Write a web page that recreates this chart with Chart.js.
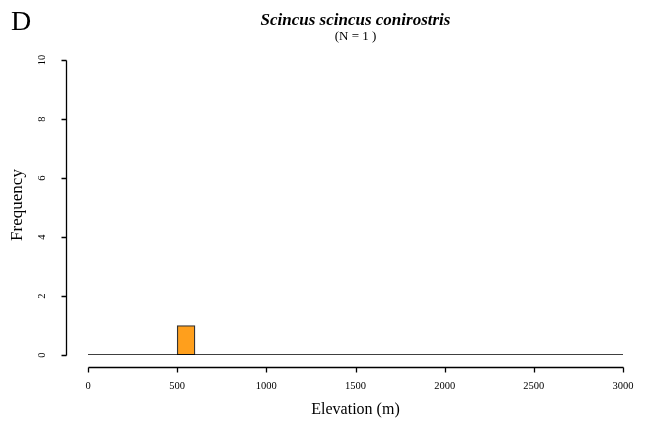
<!DOCTYPE html>
<html>
<head>
<meta charset="utf-8">
<script src="https://cdn.jsdelivr.net/npm/chart.js@4.4.0/dist/chart.umd.min.js"></script>
<style>
  html, body { margin: 0; padding: 0; background: #fff; }
  #wrap { width: 645px; height: 423px; }
</style>
</head>
<body>
<div id="wrap"><canvas id="hist"></canvas></div>
<script>
// Histogram bins (100 m wide) and counts
const binStarts = [0, 100, 200, 300, 400, 500, 600, 700, 800, 900,
    1000, 1100, 1200, 1300, 1400, 1500, 1600, 1700, 1800, 1900,
    2000, 2100, 2200, 2300, 2400, 2500, 2600, 2700, 2800, 2900];
const binCounts = [0, 0, 0, 0, 0, 1, 0, 0, 0, 0,
    0, 0, 0, 0, 0, 0, 0, 0, 0, 0,
    0, 0, 0, 0, 0, 0, 0, 0, 0, 0];
const binWidth = 100;

// Axis ticks
const xTicks = [0, 500, 1000, 1500, 2000, 2500, 3000];
const yTicks = [0, 2, 4, 6, 8, 10];

const panelLetter = 'D';
const speciesName = 'Scincus scincus conirostris';
const sampleSize = 1;

const serif = '"Liberation Serif", "Times New Roman", serif';

// R-style axes, offset from the plot region, plus the titles
const rAxes = {
    id: 'rAxes',
    afterDraw(chart) {
        const ctx = chart.ctx;
        const xs = chart.scales.x;
        const ys = chart.scales.y;
        const axisX = 66;   // y axis line position
        const axisY = 367;  // x axis line position
        const tick = 5;

        ctx.save();
        ctx.strokeStyle = '#000';
        ctx.fillStyle = '#000';
        ctx.lineWidth = 1.3;

        // y axis
        const yTop = Math.round(ys.getPixelForValue(yTicks[yTicks.length - 1])) + 0.5;
        const yBot = Math.round(ys.getPixelForValue(yTicks[0])) + 0.5;
        ctx.beginPath();
        ctx.moveTo(axisX + 0.5, yTop);
        ctx.lineTo(axisX + 0.5, yBot);
        yTicks.forEach(v => {
            const py = Math.round(ys.getPixelForValue(v)) + 0.5;
            ctx.moveTo(axisX + 0.5, py);
            ctx.lineTo(axisX + 0.5 - tick, py);
        });
        ctx.stroke();
        ctx.font = '10.5px ' + serif;
        ctx.textAlign = 'center';
        ctx.textBaseline = 'middle';
        yTicks.forEach(v => {
            const py = ys.getPixelForValue(v);
            ctx.save();
            ctx.translate(42, py);
            ctx.rotate(-Math.PI / 2);
            ctx.fillText(String(v), 0, 0);
            ctx.restore();
        });

        // x axis
        const xL = Math.round(xs.getPixelForValue(xTicks[0])) + 0.5;
        const xR = Math.round(xs.getPixelForValue(xTicks[xTicks.length - 1])) + 0.5;
        ctx.beginPath();
        ctx.moveTo(xL, axisY + 0.5);
        ctx.lineTo(xR, axisY + 0.5);
        xTicks.forEach(v => {
            const px = Math.round(xs.getPixelForValue(v)) + 0.5;
            ctx.moveTo(px, axisY + 0.5);
            ctx.lineTo(px, axisY + 0.5 + tick);
        });
        ctx.stroke();
        xTicks.forEach(v => {
            ctx.fillText(String(v), xs.getPixelForValue(v), 386);
        });

        // axis titles
        ctx.font = '16px ' + serif;
        ctx.fillText('Elevation (m)', (xs.left + xs.right) / 2, 410);
        ctx.font = '17px ' + serif;
        ctx.save();
        ctx.translate(18, 205);
        ctx.rotate(-Math.PI / 2);
        ctx.fillText('Frequency', 0, 0);
        ctx.restore();

        // main title
        const cx = (xs.left + xs.right) / 2;
        ctx.font = 'italic bold 17px ' + serif;
        ctx.fillText(speciesName, cx, 21);
        ctx.font = '13px ' + serif;
        ctx.fillText('(N = ' + sampleSize + ' )', cx, 37);

        // panel letter
        ctx.font = '28px ' + serif;
        ctx.textAlign = 'left';
        ctx.textBaseline = 'alphabetic';
        ctx.fillText(panelLetter, 11, 30);
        ctx.restore();
    }
};

const barData = binStarts.map((s, i) => ({ x: s + binWidth / 2, y: binCounts[i] }));
const xFirst = binStarts[0];
const xLast = binStarts[binStarts.length - 1] + binWidth;

new Chart(document.getElementById('hist'), {
    type: 'bar',
    data: {
        datasets: [{
            type: 'line',
            data: [{ x: xFirst, y: 0 }, { x: xLast, y: 0 }],
            borderColor: '#000',
            borderWidth: 1.4,
            pointRadius: 0,
            order: 0
        }, {
            data: barData,
            backgroundColor: '#FF9F1C',
            borderColor: '#333',
            borderWidth: 1.3,
            borderSkipped: false,
            barPercentage: 1,
            categoryPercentage: 1,
            order: 1
        }]
    },
    options: {
        responsive: true,
        maintainAspectRatio: false,
        animation: false,
        layout: { padding: { left: 88, right: 22, top: 60, bottom: 68 } },
        plugins: {
            legend: { display: false },
            tooltip: { enabled: false }
        },
        scales: {
            x: { type: 'linear', min: 0, max: 3000, offset: false, display: false },
            y: { min: 0, max: 10, display: false }
        }
    },
    plugins: [rAxes]
});
</script>
</body>
</html>
